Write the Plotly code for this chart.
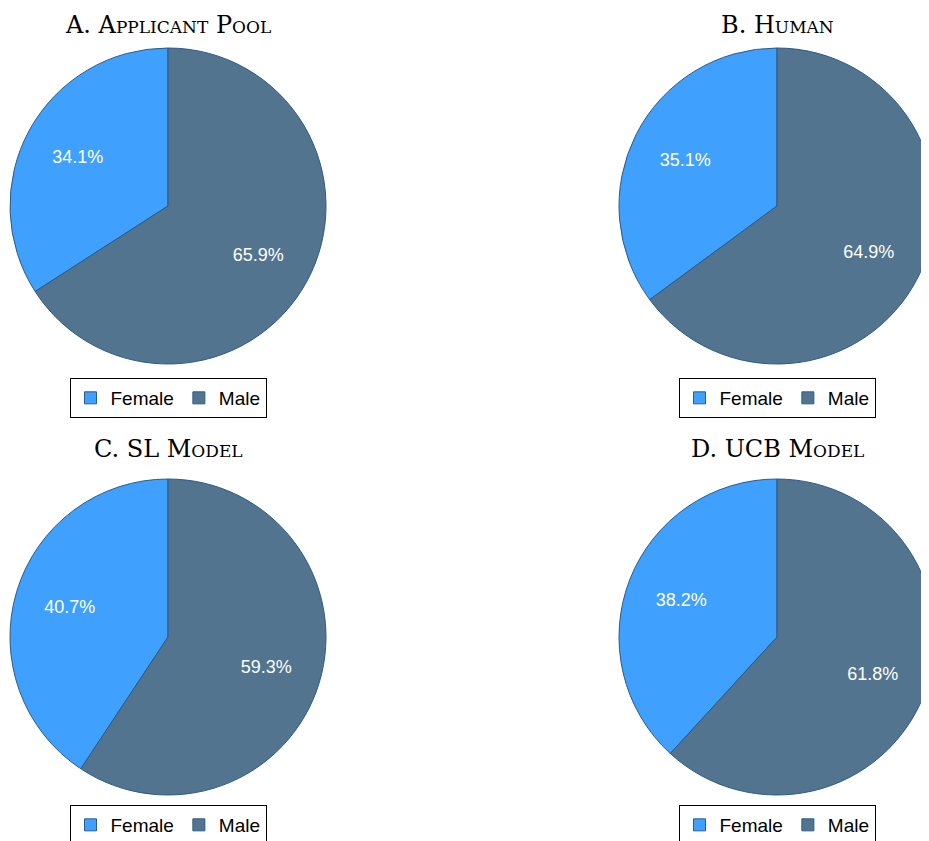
import plotly.graph_objects as go

labels = ["Female", "Male"]
titles = ["A. Applicant Pool", "B. Human", "C. SL Model", "D. UCB Model"]
pool = [34.1, 65.9]
human = [35.1, 64.9]
sl_model = [40.7, 59.3]
ucb_model = [38.2, 61.8]
series = [pool, human, sl_model, ucb_model]

colors = ["#3fa0fe", "#52748f"]
W, H = 929, 841

# pie centers and radius in figure pixels (layout only)
centers = [(160, 198), (769, 198), (160, 629), (769, 629)]
R = 158
title_y = [1 - 0.5 / H, 1 - 0.5 / H, (H - 441) / H, (H - 441) / H]
title_anchor = ["top", "top", "middle", "middle"]
legend_top = [370, 370, 797, 797]

fig = go.Figure()
legend_names = ["legend", "legend2", "legend3", "legend4"]
for i, vals in enumerate(series):
    cx, cy = centers[i]
    dom = dict(x=[(cx - R) / W, (cx + R) / W],
               y=[(H - (cy + R)) / H, (H - (cy - R)) / H])
    # female share drawn counter-clockwise from 12 o'clock
    rot = -vals[0] * 360.0 / sum(vals)
    # distinct (invisible) label suffix so every panel keeps its own legend entries
    labs = [l + "\u200b" * i for l in labels]
    fig.add_trace(go.Pie(
        labels=labs, values=vals, sort=False, direction="clockwise", rotation=rot,
        marker=dict(colors=colors, line=dict(color="#2b5b8c", width=1)),
        textinfo="none", domain=dom,
        legend=legend_names[i],
        hoverinfo="label+value",
    ))
    # transparent ring only used to place the percentage labels
    fig.add_trace(go.Pie(
        labels=labs, values=vals, sort=False, direction="clockwise", rotation=rot,
        hole=0.3,
        marker=dict(colors=["rgba(0,0,0,0)"] * 2, line=dict(width=0)),
        texttemplate="%{value:.1f}%", textinfo="text",
        textposition="inside", insidetextorientation="horizontal",
        textfont=dict(color="white", size=18, family="Liberation Sans, Arial, sans-serif"),
        domain=dom, showlegend=False, hoverinfo="skip",
    ))
    fig.add_annotation(
        text=titles[i], x=cx / W, y=title_y[i],
        xref="paper", yref="paper", xanchor="center", yanchor=title_anchor[i],
        showarrow=False,
        font=dict(family="DejaVu Serif, serif", size=24,
                  color="black", variant="small-caps"),
    )

legend_common = dict(
    orientation="h", xanchor="center", yanchor="top",
    bordercolor="black", borderwidth=1, bgcolor="white",
    font=dict(family="Liberation Sans, Arial, sans-serif", size=19, color="black"),
    itemwidth=30, tracegroupgap=0,
)
leg_layout = {}
for i, name in enumerate(legend_names):
    cx, cy = centers[i]
    leg_layout[name] = dict(legend_common, x=cx / W, y=(H - legend_top[i]) / H)

fig.update_layout(
    width=W, height=H, margin=dict(l=0, r=0, t=0, b=0, autoexpand=False),
    paper_bgcolor="white", plot_bgcolor="white",
    **leg_layout,
)

fig.write_html("out.html")
